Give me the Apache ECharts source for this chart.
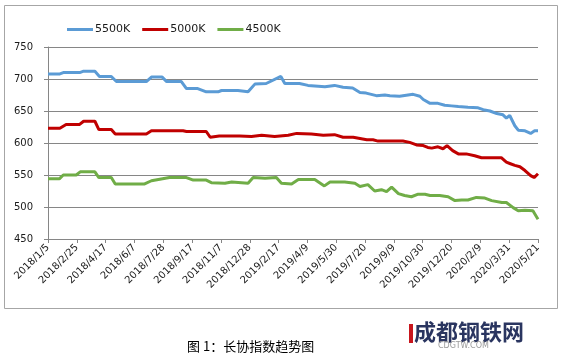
<!DOCTYPE html>
<html>
<head>
<meta charset="utf-8">
<script src="https://cdn.jsdelivr.net/npm/echarts@6/dist/echarts.min.js"></script>
<style>
html,body{margin:0;padding:0;background:#fff;}
#c{width:563px;height:357px;}
</style>
</head>
<body>
<div id="c"></div>
<script>
// Day offsets from 2018/1/5 and values
const startDate = '2018-01-05';
const seriesNames = ['5500K', '5000K', '4500K'];
const days5500 = [0,21,27,56,62,83,91,112,121,174,183,202,210,236,245,265,280,301,307,336,339,354,366,386,412,419,445,460,490,507,510,522,539,552,563,581,596,605,622,646,658,664,676,690,702,714,726,743,761,770,782,794,805,811,817,826,832,844,854,861,867];
const vals5500 = [708,708,710,710,712,712,704,704,696,696,703,703,696,696,685,685,680,680,682,682,680,680,692,693,704,693,693,690,688,690,690,687,686,679,678,674,675,674,673,676,673,668,662,662,659,658,657,656,655,652,650,646,644,639,643,627,620,619,615,619,619];
const days5000 = [0,21,32,56,63,83,90,112,119,174,183,239,245,280,287,303,339,360,378,401,425,440,466,487,507,522,540,552,564,575,584,628,640,652,664,672,679,690,699,706,716,726,740,755,767,802,811,817,826,835,844,854,860,867];
const vals5000 = [623,623,629,629,634,634,621,621,614,614,619,619,618,618,609,611,611,610,612,610,612,615,614,612,613,609,609,607,605,605,603,603,601,597,596,593,592,594,591,596,588,583,583,580,577,577,570,568,565,563,557,549,546,552];
const days4500 = [0,20,27,50,57,83,90,112,119,171,183,215,245,257,280,289,313,325,354,363,384,404,413,431,443,472,489,499,525,543,552,566,578,590,599,608,620,631,643,655,667,676,679,693,708,720,732,743,758,773,785,803,811,823,832,844,858,867];
const vals4500 = [544,544,550,550,555,555,546,546,536,536,541,546,546,542,542,538,537,539,537,546,545,546,537,536,543,543,533,539,539,537,532,535,525,527,524,531,521,518,516,520,520,518,519,518,516,510,511,511,515,514,510,507,507,499,494,495,494,481];
const colors = ['#5B9BD5', '#C00000', '#70AD47'];

function pair(d, v) { return d.map((x, i) => [x, v[i]]); }
function dayLabel(n) {
  const t = new Date(startDate + 'T00:00:00Z');
  t.setUTCDate(t.getUTCDate() + Math.round(n));
  return t.getUTCFullYear() + '/' + (t.getUTCMonth() + 1) + '/' + t.getUTCDate();
}

const chart = echarts.init(document.getElementById('c'));
const font = 'DejaVu Sans';
chart.setOption({
  animation: false,
  color: colors,
  grid: { left: 48, right: 25, top: 47, bottom: 118, containLabel: false },
  legend: {
    left: 62, top: 19, itemWidth: 26, itemHeight: 3, itemGap: 12,
    icon: 'rect',
    textStyle: { fontFamily: font, fontSize: 11, color: '#1a1a1a', padding: [0, 0, 0, -3] },
    data: seriesNames
  },
  xAxis: {
    type: 'value', min: 0, max: 867, interval: 51,
    axisLine: { show: true, lineStyle: { color: '#868686' } },
    axisTick: { show: true, length: 4, lineStyle: { color: '#868686' } },
    splitLine: { show: false },
    axisLabel: { rotate: 45, fontFamily: font, fontSize: 10, color: '#1a1a1a', margin: 7, formatter: dayLabel, showMinLabel: true, showMaxLabel: true }
  },
  yAxis: {
    type: 'value', min: 450, max: 750, interval: 50,
    axisLine: { show: true, lineStyle: { color: '#868686' } },
    axisTick: { show: true, length: 4, lineStyle: { color: '#868686' } },
    splitLine: { show: true, lineStyle: { color: '#868686', width: 1 } },
    axisLabel: { fontFamily: font, fontSize: 10, color: '#1a1a1a', margin: 15 }
  },
  series: [
    { name: seriesNames[0], type: 'line', symbol: 'none', lineStyle: { width: 3 }, data: pair(days5500, vals5500) },
    { name: seriesNames[1], type: 'line', symbol: 'none', lineStyle: { width: 3 }, data: pair(days5000, vals5000) },
    { name: seriesNames[2], type: 'line', symbol: 'none', lineStyle: { width: 3 }, data: pair(days4500, vals4500) }
  ],
  graphic: [
    { type: 'rect', shape: { x: 4.5, y: 5.5, width: 553, height: 303 }, style: { fill: 'none', stroke: '#a6a6a6', lineWidth: 1 }, silent: true },
    { type: 'text', left: 187, top: 340, style: { text: '图 1：长协指数趋势图', fontFamily: 'Noto Sans CJK SC', fontSize: 13, fill: '#000' } },
    { type: 'rect', shape: { x: 409, y: 324, width: 4, height: 19 }, style: { fill: '#c8161d' } },
    { type: 'text', left: 414, top: 321, style: { text: '成都钢铁网', fontFamily: 'Noto Sans CJK SC', fontWeight: 'bold', fontSize: 22, fill: '#2a3560' } },
    { type: 'text', left: 438, top: 342, style: { text: 'CDGTW.COM', fontFamily: font, fontSize: 8, fill: '#9a9a9a' } }
  ]
});
</script>
</body>
</html>
